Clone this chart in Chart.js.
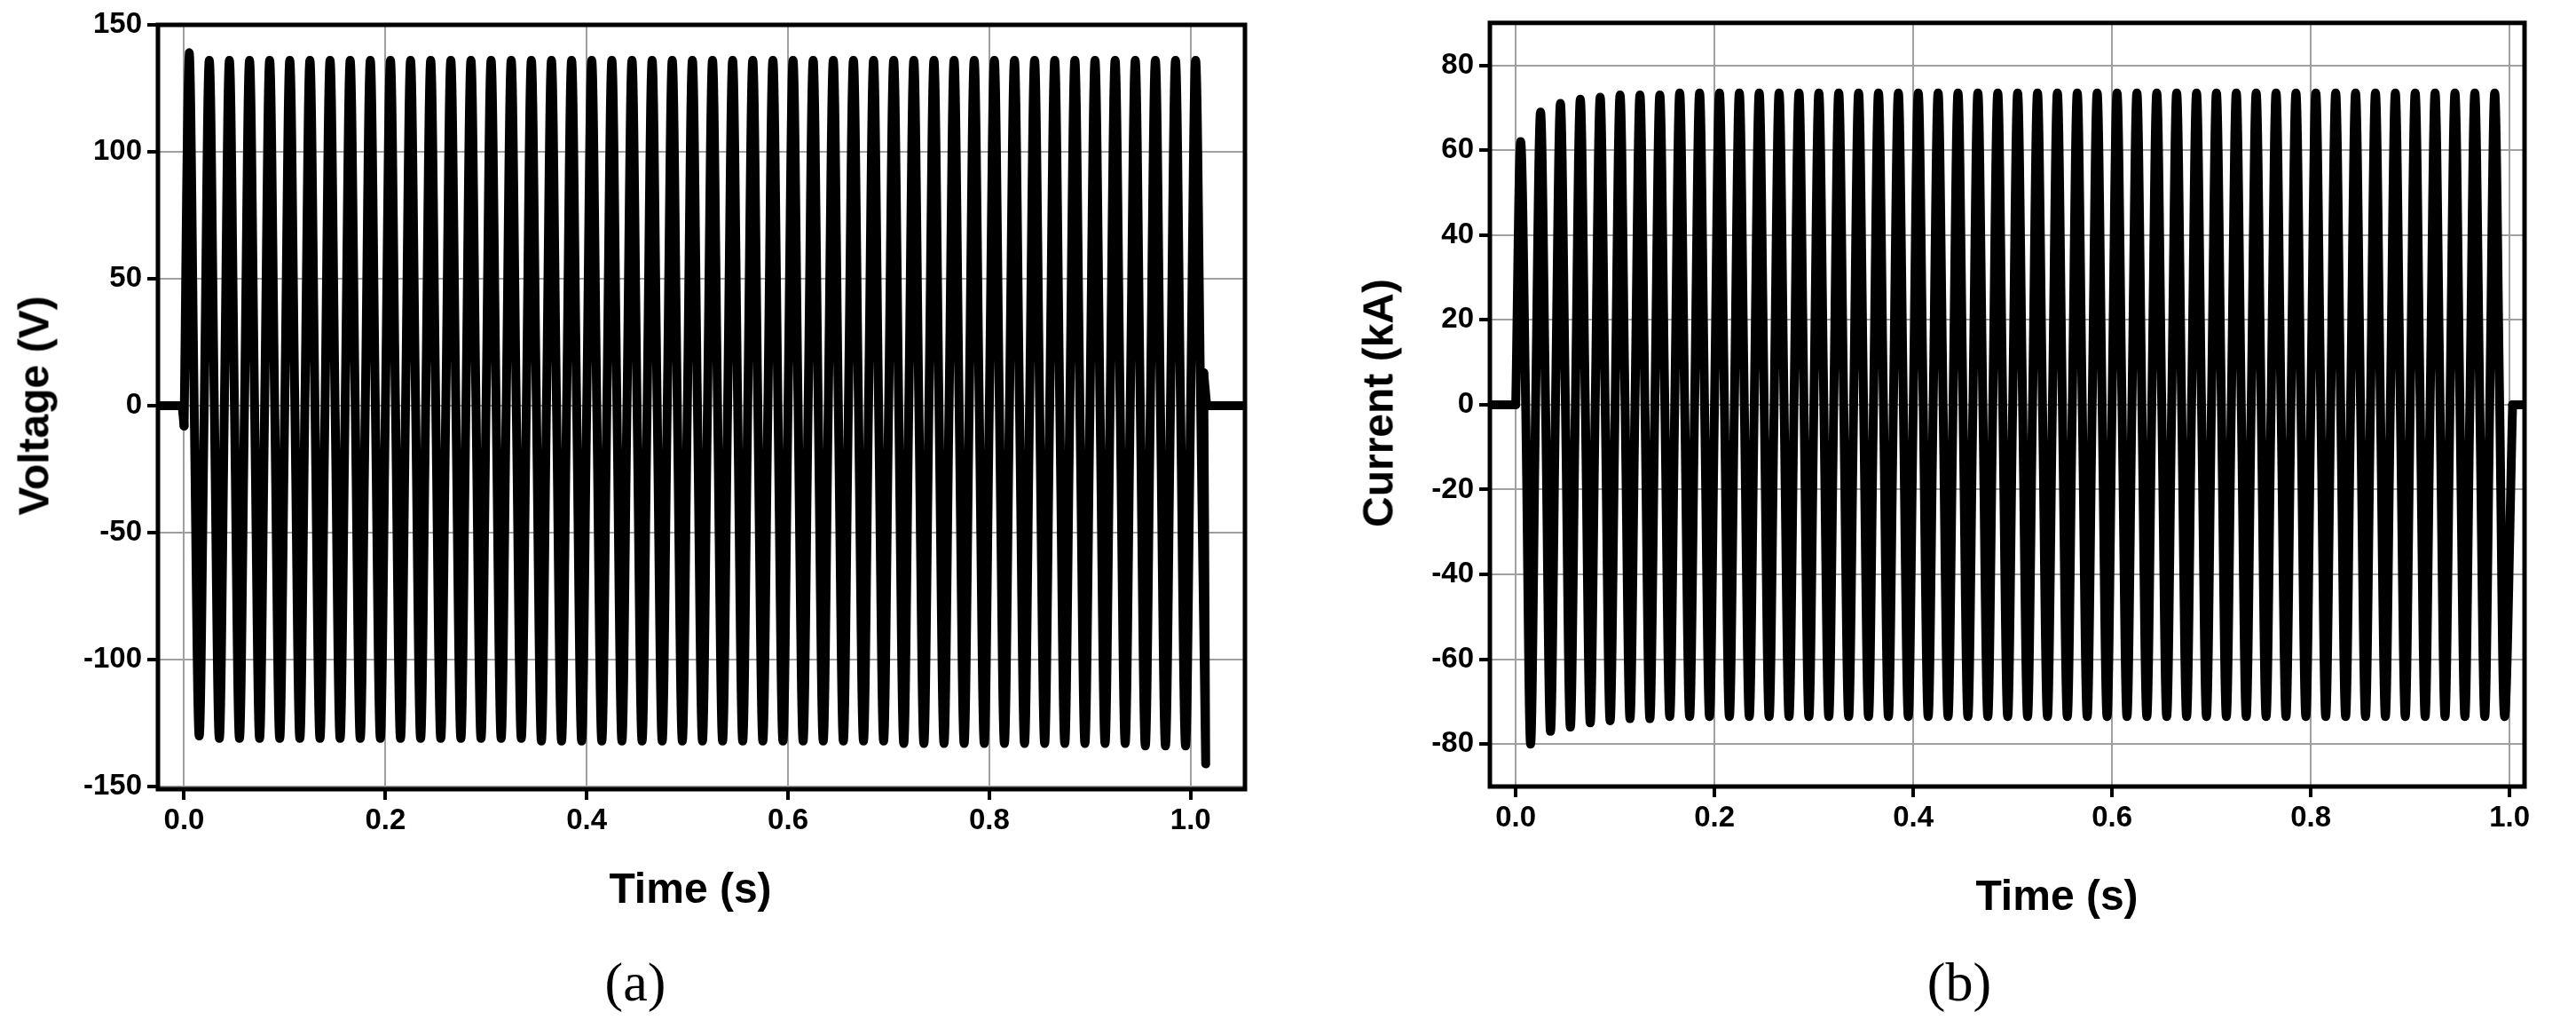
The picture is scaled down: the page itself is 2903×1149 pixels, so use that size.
<!DOCTYPE html>
<html><head><meta charset="utf-8">
<script src="https://cdn.jsdelivr.net/npm/chart.js@4/dist/chart.umd.min.js"></script>
<style>
html,body{margin:0;padding:0;background:#fff;width:2903px;height:1149px;overflow:hidden;position:relative;font-family:"Liberation Sans",Arial,sans-serif}
canvas{position:absolute;top:0}
.t{position:absolute;font-weight:bold;font-size:48px;color:#000;white-space:nowrap;transform:translate(-50%,-50%)}
.v{transform:translate(-50%,-50%) rotate(-90deg)}
.c{position:absolute;font-family:"Liberation Serif","DejaVu Serif",serif;font-size:62px;transform:translate(-50%,-50%)}
</style></head><body>
<canvas id="c1" style="left:0;width:1430px;height:1149px" width="1430" height="1149"></canvas>
<canvas id="c2" style="left:1430px;width:1473px;height:1149px" width="1473" height="1149"></canvas>
<div class="t" style="left:778px;top:1000px">Time (s)</div>
<div class="t v" style="left:38px;top:457px">Voltage (V)</div>
<div class="t" style="left:2318px;top:1008px">Time (s)</div>
<div class="t v" style="left:1553px;top:454px">Current (kA)</div>
<div class="c" style="left:716px;top:1106px">(a)</div>
<div class="c" style="left:2208px;top:1106px">(b)</div>
<script>
// ---- data ----
const period = 0.02;           // 50 Hz cycle (s)
const voltagePeaks = [139,136,136,136,136,136,136,136,136,136,136,136,136,136,136,136,136,136,136,136,136,136,136,136,136,136,136,136,136,136,136,136,136,136,136,136,136,136,136,136,136,136,136,136,136,136,136,136,136,136,136];
const voltageTroughs = [-130,-131,-131,-131,-131,-131,-131,-131,-131,-131,-131,-131,-131,-131,-131,-131,-131,-132,-132,-132,-132,-132,-132,-132,-132,-132,-132,-132,-132,-132,-132,-132,-132,-132,-132,-133,-133,-133,-133,-133,-133,-133,-133,-133,-133,-133,-133,-134,-134,-134,-141];
const voltageStart = [[-0.026,0],[-0.002,0],[0.0,-8]];
const voltageEnd = [[1.013,13],[1.016,0],[1.054,0]];
const currentPeaks = [62,69,71,72,72.5,73,73,73,73.5,73.5,73.5,73.5,73.5,73.5,73.5,73.5,73.5,73.5,73.5,73.5,73.5,73.5,73.5,73.5,73.5,73.5,73.5,73.5,73.5,73.5,73.5,73.5,73.5,73.5,73.5,73.5,73.5,73.5,73.5,73.5,73.5,73.5,73.5,73.5,73.5,73.5,73.5,73.5,73.5,73.5];
const currentTroughs = [-80,-77,-76,-75,-74.5,-74,-74,-73.5,-73.5,-73.5,-73.5,-73.5,-73.5,-73.5,-73.5,-73.5,-73.5,-73.5,-73.5,-73.5,-73.5,-73.5,-73.5,-73.5,-73.5,-73.5,-73.5,-73.5,-73.5,-73.5,-73.5,-73.5,-73.5,-73.5,-73.5,-73.5,-73.5,-73.5,-73.5,-73.5,-73.5,-73.5,-73.5,-73.5,-73.5,-73.5,-73.5,-73.5,-73.5,-73.5];
const currentStart = [[-0.026,0],[-0.001,0],[0.0,0]];
const currentEnd = [[1.003,0],[1.016,0]];
const xTicks = [0,0.2,0.4,0.6,0.8,1.0];
const vTicks = [-150,-100,-50,0,50,100,150];
const iTicks = [-80,-60,-40,-20,0,20,40,60,80];

function wave(start, peaks, troughs, end){
  const pts = [{x:start[start.length-1][0], y:start[start.length-1][1]}];
  const n = Math.max(peaks.length, troughs.length);
  for(let k=0;k<n;k++){
    const t0 = k*period;
    if(k>0) pts.push({x:t0,y:0});
    if(k<peaks.length) pts.push({x:t0+period/4,y:peaks[k]});
    pts.push({x:t0+period/2,y:0});
    if(k<troughs.length) pts.push({x:t0+3*period/4,y:troughs[k]});
  }
  pts.push({x:end[0][0], y:end[0][1]});
  return pts;
}
function flat(arr){return arr.map(p=>({x:p[0],y:p[1]}));}

const frame = {id:'frame',afterDraw(c){const a=c.chartArea,g=c.ctx;g.save();g.strokeStyle='#000';g.lineWidth=5;g.strokeRect(a.left,a.top,a.right-a.left,a.bottom-a.top);g.restore();}};

function ds(data, tension){return {data, borderColor:'#000', borderWidth:10, pointRadius:0, tension, borderJoinStyle:'round', borderCapStyle:'round'};}

function make(id, start, peaks, troughs, end, ymin, ymax, yt, xmax, yw, top, right, xh){
  new Chart(document.getElementById(id),{
    type:'line',
    data:{datasets:[ds(flat(start),0), ds(wave(start,peaks,troughs,end),0.35), ds(flat(end),0)]},
    options:{responsive:false, animation:false, devicePixelRatio:1,
      layout:{padding:{top, right, left:0, bottom:0}},
      plugins:{legend:{display:false}, tooltip:{enabled:false}},
      scales:{
        x:{type:'linear', min:-0.026, max:xmax,
          afterBuildTicks(s){s.ticks = xTicks.map(v=>({value:v}));},
          afterFit(s){s.height = xh;},
          border:{display:false},
          grid:{color:'#a0a0a0', lineWidth:2, borderDash:[18,12], tickLength:12, tickColor:'#000', tickWidth:4, drawOnChartArea:true},
          ticks:{color:'#000', font:{family:'Liberation Sans', size:33, weight:'bold'}, padding:4, maxRotation:0, callback:v=>v.toFixed(1)}},
        y:{type:'linear', min:ymin, max:ymax,
          afterBuildTicks(s){s.ticks = yt.map(v=>({value:v}));},
          afterFit(s){s.width = yw;},
          border:{display:false},
          grid:{color:'#a0a0a0', lineWidth:2, borderDash:[18,12], tickLength:12, tickColor:'#000', tickWidth:4},
          ticks:{color:'#000', font:{family:'Liberation Sans', size:33, weight:'bold'}, padding:6}}
      }},
    plugins:[frame]
  });
}
make('c1', voltageStart, voltagePeaks, voltageTroughs, voltageEnd, -151, 150, vTicks, 1.054, 178, 28, 27, 260);
make('c2', currentStart, currentPeaks, currentTroughs, currentEnd, -90, 90, iTicks, 1.015, 249, 24, 58, 263);
</script>
</body></html>
